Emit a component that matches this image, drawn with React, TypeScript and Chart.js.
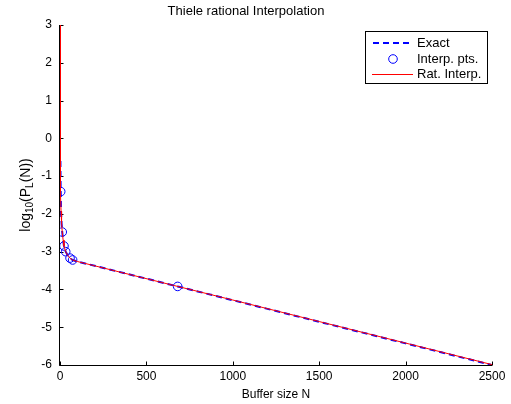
import React, { useEffect, useRef } from "react";
import { Chart, registerables } from "chart.js";
Chart.register(...registerables);

const titleText = "Thiele rational Interpolation";
const xLabel = "Buffer size N";
const legendLabels = ["Exact", "Interp. pts.", "Rat. Interp."];

const xTicks = [0, 500, 1000, 1500, 2000, 2500];
const yTicks = [-6, -5, -4, -3, -2, -1, 0, 1, 2, 3];

const exactX = [2.5, 3, 4, 6, 9, 13, 18, 23, 33, 45, 58, 73, 100, 681, 1000, 1500, 2000, 2500];
const exactY = [-0.6, -0.95, -1.41, -1.95, -2.25, -2.48, -2.7, -2.85, -3.0, -3.1, -3.17, -3.22, -3.26, -3.92, -4.285, -4.856, -5.428, -6.0];

const interpX = [4, 13, 23, 33, 58, 73, 681];
const interpY = [-1.41, -2.48, -2.85, -3.0, -3.17, -3.22, -3.92];

const ratX = [0.3, 0.7, 1.1, 2, 3, 4, 6, 9, 13, 18, 23, 33, 45, 58, 73, 100, 681, 1000, 1500, 2000, 2500];
const ratY = [3.3, 1.5, 0.6, -0.4, -0.98, -1.41, -1.93, -2.24, -2.48, -2.69, -2.85, -3.0, -3.1, -3.17, -3.22, -3.26, -3.92, -4.28, -4.85, -5.42, -5.99];

const FONT = "'Liberation Sans', Arial, Helvetica, sans-serif";
const BLUE = "rgb(0,0,255)";
const RED = "rgb(255,0,0)";

const toPts = (xs: number[], ys: number[]) => xs.map((x, i) => ({ x, y: ys[i] }));

const axesPlugin = {
  id: "matlabAxes",
  beforeDatasetsDraw(chart: any) {
    const ctx = chart.ctx;
    const a = chart.chartArea;
    const xs = chart.scales.x;
    const ys = chart.scales.y;
    const L = Math.round(a.left) - 0.5;
    const B = Math.round(a.bottom) + 0.5;
    ctx.save();
    ctx.strokeStyle = "#000";
    ctx.lineWidth = 1;
    ctx.beginPath();
    ctx.moveTo(L, a.top);
    ctx.lineTo(L, B);
    ctx.lineTo(a.right, B);
    for (const t of xs.ticks) {
      const px = Math.round(xs.getPixelForValue(t.value)) + 0.5;
      ctx.moveTo(px, B);
      ctx.lineTo(px, B - 4);
    }
    for (const t of ys.ticks) {
      const py = Math.round(ys.getPixelForValue(t.value)) + 0.5;
      ctx.moveTo(L, py);
      ctx.lineTo(L + 4, py);
    }
    ctx.stroke();

    // y-axis title with subscripts
    ctx.translate(26, (a.top + a.bottom) / 2);
    ctx.rotate(-Math.PI / 2);
    ctx.fillStyle = "#000";
    ctx.textBaseline = "alphabetic";
    const big = "14px " + FONT;
    const small = "10px " + FONT;
    const parts: [string, boolean][] = [["log", false], ["10", true], ["(P", false], ["L", true], ["(N))", false]];
    let total = 0;
    for (const [s, sub] of parts) {
      ctx.font = sub ? small : big;
      total += ctx.measureText(s).width;
    }
    let x = -total / 2;
    for (const [s, sub] of parts) {
      ctx.font = sub ? small : big;
      ctx.fillText(s, x, sub ? 7 : 4);
      x += ctx.measureText(s).width;
    }
    ctx.restore();
  },
  afterDatasetsDraw(chart: any) {
    const ctx = chart.ctx;
    ctx.save();
    const lx = 365.5, ly = 31.5, lw = 122, lh = 52;
    ctx.fillStyle = "#fff";
    ctx.fillRect(lx, ly, lw, lh);
    ctx.strokeStyle = "#000";
    ctx.lineWidth = 1;
    ctx.strokeRect(lx, ly, lw, lh);
    const rows = [43, 59, 74];
    ctx.font = "13px " + FONT;
    ctx.textBaseline = "middle";
    ctx.fillStyle = "#000";
    legendLabels.forEach((lab, i) => ctx.fillText(lab, 417, rows[i]));
    ctx.strokeStyle = BLUE;
    ctx.lineWidth = 2;
    ctx.setLineDash([6, 4]);
    ctx.beginPath();
    ctx.moveTo(373, rows[0]);
    ctx.lineTo(413, rows[0]);
    ctx.stroke();
    ctx.setLineDash([]);
    ctx.lineWidth = 1;
    ctx.beginPath();
    ctx.arc(393, rows[1], 4.3, 0, Math.PI * 2);
    ctx.stroke();
    ctx.strokeStyle = RED;
    ctx.beginPath();
    ctx.moveTo(372, rows[2] + 0.5);
    ctx.lineTo(413, rows[2] + 0.5);
    ctx.stroke();
    ctx.restore();
  },
};

export default function App() {
  const ref = useRef<HTMLCanvasElement>(null);
  useEffect(() => {
    const chart = new Chart(ref.current as HTMLCanvasElement, {
      type: "scatter",
      data: {
        datasets: [
          {
            label: legendLabels[2],
            data: toPts(ratX, ratY),
            showLine: true,
            borderColor: RED,
            borderWidth: 1,
            pointRadius: 0,
            order: 0,
          },
          {
            label: legendLabels[1],
            data: toPts(interpX, interpY),
            showLine: false,
            borderColor: BLUE,
            backgroundColor: "rgba(0,0,0,0)",
            borderWidth: 1,
            pointRadius: 4.3,
            order: 1,
          },
          {
            label: legendLabels[0],
            data: toPts(exactX, exactY),
            showLine: true,
            borderColor: BLUE,
            borderWidth: 2,
            borderDash: [6, 4],
            pointRadius: 0,
            order: 2,
          },
        ],
      } as any,
      options: {
        animation: false,
        responsive: false,
        devicePixelRatio: 1,
        layout: { padding: { top: 0, right: 19, left: 0, bottom: 0 } },
        plugins: {
          legend: { display: false },
          tooltip: { enabled: false },
          title: {
            display: true,
            text: titleText,
            color: "#000",
            font: { family: FONT, size: 13, weight: "normal" },
            padding: { top: 4, bottom: 5.4 },
          },
        },
        scales: {
          x: {
            type: "linear",
            min: 0,
            max: 2500,
            afterBuildTicks: (s: any) => {
              s.ticks = xTicks.map((v) => ({ value: v }));
            },
            afterFit: (s: any) => {
              s.height = 39;
            },
            grid: { display: false, drawTicks: false },
            border: { display: false },
            ticks: {
              color: "#000",
              font: { family: FONT, size: 12 },
              padding: 4,
              maxRotation: 0,
              callback: (v: any) => String(v),
            },
            title: {
              display: true,
              text: xLabel,
              color: "#000",
              font: { family: FONT, size: 12 },
              padding: { top: 0, bottom: 2 },
            },
          },
          y: {
            type: "linear",
            min: -6,
            max: 3,
            afterBuildTicks: (s: any) => {
              s.ticks = yTicks.map((v) => ({ value: v }));
            },
            afterFit: (s: any) => {
              s.width = 60;
            },
            grid: { display: false, drawTicks: false },
            border: { display: false },
            ticks: {
              color: "#000",
              font: { family: FONT, size: 12 },
              padding: 8,
              callback: (v: any) => String(v),
            },
          },
        },
      } as any,
      plugins: [axesPlugin],
    });
    return () => chart.destroy();
  }, []);
  return (
    <div style={{ position: "absolute", left: 0, top: 0, width: 511, height: 404, background: "#fff" }}>
      <canvas ref={ref} width={511} height={404} />
    </div>
  );
}
